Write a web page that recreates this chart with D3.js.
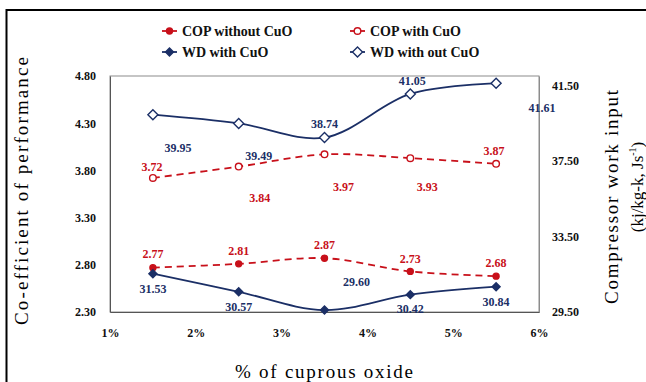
<!DOCTYPE html>
<html><head><meta charset="utf-8">
<script src="https://cdn.jsdelivr.net/npm/d3@7"></script>
<style>body{margin:0;background:#fff}svg{display:block}
svg text{font-family:"Liberation Serif","Tinos","Noto Serif","DejaVu Serif","Times New Roman",Times,serif !important;}
</style>
</head><body>
<script>
// ---- data ----
const xValues = [1.5, 2.5, 3.5, 4.5, 5.5];
const xTicks = [1, 2, 3, 4, 5, 6];
const xTickLabels = ["1%", "2%", "3%", "4%", "5%", "6%"];
const copWithout = [2.77, 2.81, 2.87, 2.73, 2.68];
const copWith = [3.72, 3.84, 3.97, 3.93, 3.87];
const wdWith = [31.53, 30.57, 29.60, 30.42, 30.84];
const wdWithout = [39.95, 39.49, 38.74, 41.05, 41.61];
const leftTicks = [2.30, 2.80, 3.30, 3.80, 4.30, 4.80];
const rightTicks = [29.50, 33.50, 37.50, 41.50];

// ---- layout ----
const W = 646, H = 382;
const M = {l: 110, r: 539, t: 76, b: 312};
const red = "#c8101a", navy = "#1b2f66";

const svg = d3.select("body").append("svg").attr("width", W).attr("height", H);

// outer frame (only top/left visible)
svg.append("rect").attr("x", 6.5).attr("y", 10).attr("width", 700).attr("height", 400)
  .attr("fill", "none").attr("stroke", "#000").attr("stroke-width", 2);

const x = d3.scaleLinear().domain([1, 6]).range([M.l, M.r]);
const yL = d3.scaleLinear().domain([2.3, 4.8]).range([M.b, M.t]);
const yR = d3.scaleLinear().domain([29.5, 42.0]).range([M.b, M.t]);

// plot area border
svg.append("rect").attr("x", M.l).attr("y", M.t).attr("width", M.r - M.l).attr("height", M.b - M.t)
  .attr("fill", "none").attr("stroke", "#8c8c8c").attr("stroke-width", 1);

// axes
const axL = svg.append("g").attr("transform", `translate(${M.l},0)`)
  .call(d3.axisLeft(yL).tickValues(leftTicks).tickFormat(d3.format(".2f")).tickSize(0).tickPadding(14));
const axR = svg.append("g").attr("transform", `translate(${M.r},0)`)
  .call(d3.axisRight(yR).tickValues(rightTicks).tickFormat(d3.format(".2f")).tickSize(0).tickPadding(13));
const axB = svg.append("g").attr("transform", `translate(0,${M.b})`)
  .call(d3.axisBottom(x).tickValues(xTicks).tickFormat((d, i) => xTickLabels[i]).tickSize(0).tickPadding(16));
[axL, axR, axB].forEach(a => {
  a.select(".domain").attr("stroke", "#555");
  a.selectAll("text").attr("font-weight", "bold").attr("font-size", 12).attr("fill", "#111");
});
axR.select(".domain").attr("stroke", "#8c8c8c");

// axis titles
svg.append("text").attr("transform", "translate(28,191) rotate(-90)").attr("text-anchor", "middle")
  .attr("font-size", 19).attr("textLength", 268).attr("lengthAdjust", "spacing")
  .text("Co-efficient of performance");
svg.append("text").attr("transform", "translate(618,197) rotate(-90)").attr("text-anchor", "middle")
  .attr("font-size", 19).attr("textLength", 214).attr("lengthAdjust", "spacing")
  .text("Compressor work input");
const t2 = svg.append("text").attr("transform", "translate(643,187) rotate(-90)").attr("text-anchor", "middle")
  .attr("font-size", 17);
t2.append("tspan").text("(kj/kg-k, Js");
t2.append("tspan").attr("font-size", 10).attr("dy", -7).text("-1");
t2.append("tspan").attr("dy", 7).text(")");
svg.append("text").attr("x", 324).attr("y", 378).attr("text-anchor", "middle")
  .attr("font-size", 19).attr("textLength", 178).attr("lengthAdjust", "spacing")
  .text("% of cuprous oxide");

// series definitions
const curve = d3.curveCatmullRom.alpha(0.5);
const series = [
  {name: "COP without CuO", vals: copWithout, y: yL, color: red, dash: "7,5", marker: "circle", fill: true,
   dx: [0, 0, 0, 0, 0], dy: [-14, -13, -13, -13, -13]},
  {name: "COP with CuO", vals: copWith, y: yL, color: red, dash: "7,5", marker: "circle", fill: false,
   dx: [-1, 21, 19, 17, -2], dy: [-11, 31, 32, 29, -13]},
  {name: "WD with CuO", vals: wdWith, y: yR, color: navy, dash: null, marker: "diamond", fill: true,
   dx: [0, 0, 32, 0, 0], dy: [15, 15, -28, 14, 15]},
  {name: "WD with out CuO", vals: wdWithout, y: yR, color: navy, dash: null, marker: "diamond", fill: false,
   dx: [25, 20, 0, 2, 46], dy: [33, 32, -14, -13, 24]}
];

const fmt = d3.format(".2f");
function drawMarker(g, s, cx, cy) {
  if (s.marker === "circle") {
    g.append("circle").attr("cx", cx).attr("cy", cy).attr("r", s.fill ? 3 : 3.3)
      .attr("fill", s.fill ? s.color : "#fff").attr("stroke", s.color).attr("stroke-width", 1.4);
  } else {
    const r = s.fill ? 4 : 5;
    g.append("path").attr("d", `M${cx},${cy - r}L${cx + r},${cy}L${cx},${cy + r}L${cx - r},${cy}Z`)
      .attr("fill", s.fill ? s.color : "#fff").attr("stroke", s.color).attr("stroke-width", 1.4);
  }
}

series.forEach(s => {
  const g = svg.append("g");
  const line = d3.line().x((d, i) => x(xValues[i])).y(d => s.y(d)).curve(curve);
  g.append("path").attr("d", line(s.vals)).attr("fill", "none").attr("stroke", s.color)
    .attr("stroke-width", 1.8).attr("stroke-dasharray", s.dash);
  s.vals.forEach((v, i) => drawMarker(g, s, x(xValues[i]), s.y(v)));
  s.vals.forEach((v, i) => {
    g.append("text").attr("x", x(xValues[i]) + s.dx[i]).attr("y", s.y(v) + s.dy[i])
      .attr("dy", "0.35em").attr("text-anchor", "middle")
      .attr("font-weight", "bold").attr("font-size", 12)
      .attr("fill", s.color).text(fmt(v));
  });
});

// legend
const legPos = [[162, 31], [350, 31], [162, 52], [350, 52]];
series.forEach((s, k) => {
  const [lx, ly] = legPos[k];
  const g = svg.append("g");
  g.append("line").attr("x1", lx).attr("x2", lx + 15).attr("y1", ly).attr("y2", ly)
    .attr("stroke", s.color).attr("stroke-width", 1.8);
  drawMarker(g, s, lx + 7.5, ly);
  g.append("text").attr("x", lx + 20).attr("y", ly).attr("dy", "0.35em")
    .attr("font-weight", "bold").attr("font-size", 14).attr("fill", "#111")
    .text(s.name);
});
</script>
</body></html>
